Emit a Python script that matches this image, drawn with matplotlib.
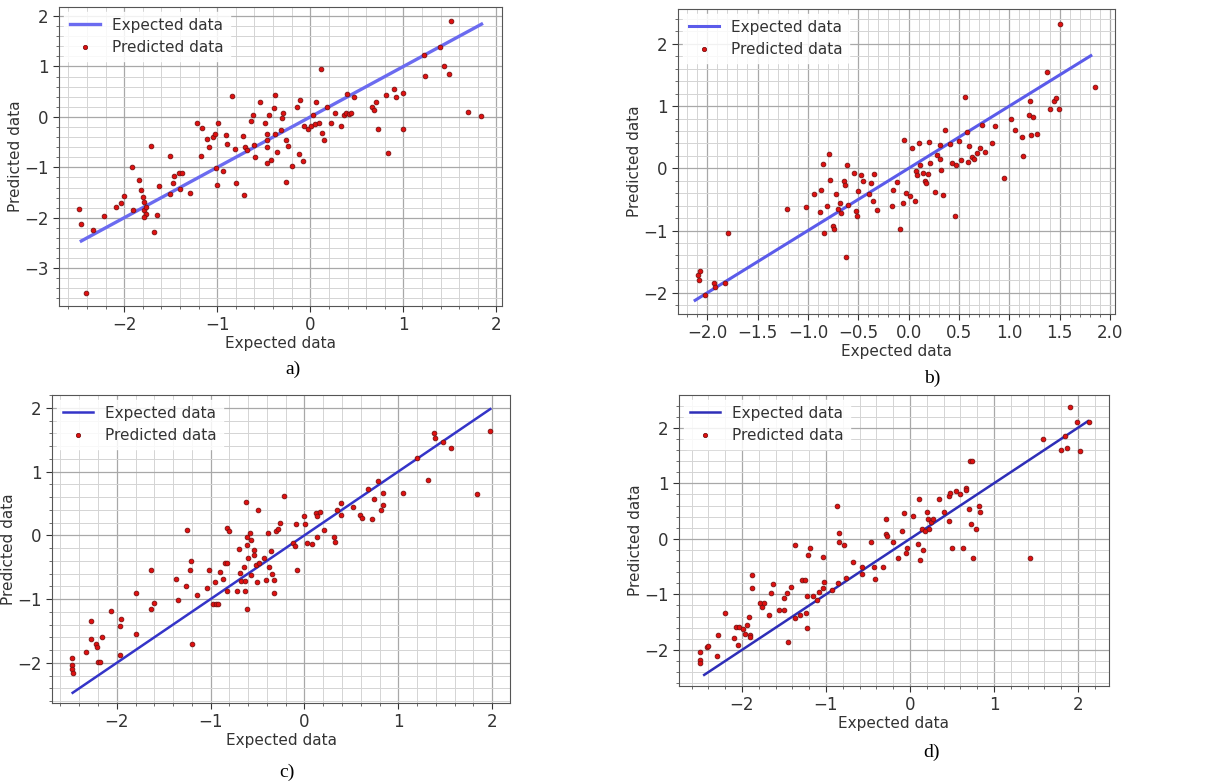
import matplotlib
matplotlib.use("Agg")
import matplotlib.pyplot as plt
from matplotlib.ticker import AutoMinorLocator, MultipleLocator

# ---- panel a ----
a_x = [-2.48,-2.46,-2.33,-2.41,-2.22,-2.09,-2.03,-2.0,-1.92,-1.91,-1.84,-1.82,-1.80,-1.79,-1.79,-1.77,-1.76,-1.79,
       -1.71,-1.65,-1.68,-1.63,-1.51,-1.51,-1.47,-1.46,-1.41,-1.38,-1.40,-1.29,-1.22,-1.16,-1.17,-1.11,-1.09,-1.04,
       -1.02,-0.99,-1.01,-1.00,-0.94,-0.91,-0.90,-0.84,-0.81,-0.80,-0.72,-0.71,-0.70,-0.68,-0.64,-0.62,-0.59,-0.60,
       -0.54,-0.49,-0.47,-0.47,-0.46,-0.46,-0.44,-0.42,-0.39,-0.38,-0.38,-0.36,-0.30,-0.29,-0.31,-0.26,-0.24,-0.26,
       -0.20,-0.14,-0.11,-0.12,-0.08,-0.07,-0.02,0.01,0.03,0.05,0.06,0.09,0.11,0.13,0.15,0.18,0.22,0.27,0.33,0.36,
       0.38,0.42,0.44,0.39,0.47,0.66,0.68,0.71,0.73,0.81,0.84,0.90,0.92,1.00,1.00,1.22,1.23,1.39,1.44,1.49,1.51,
       1.70,1.83]
a_y = [-1.82,-2.13,-2.24,-3.49,-1.97,-1.78,-1.70,-1.57,-0.99,-1.84,-1.25,-1.44,-1.58,-1.68,-1.85,-1.92,-1.78,-1.98,
       -0.57,-1.95,-2.28,-1.37,-0.77,-1.53,-1.32,-1.17,-1.12,-1.12,-1.42,-1.50,-0.12,-0.22,-0.77,-0.43,-0.59,-0.39,
       -0.33,-0.13,-1.01,-1.35,-1.07,-0.35,-0.54,0.41,-0.63,-1.32,-0.37,-1.54,-0.59,-0.66,-0.08,0.04,-0.79,-0.56,
       0.30,-0.13,-0.33,-0.46,-0.59,-0.92,0.04,-0.86,0.17,0.43,-0.33,-0.69,-0.03,0.08,-0.26,-0.45,-0.58,-1.29,
       -0.97,0.19,0.33,-0.74,-0.87,-0.18,-0.23,-0.18,0.04,-0.14,0.30,-0.13,0.96,-0.31,-0.46,0.19,-0.13,0.08,-0.18,0.04,
       0.07,0.06,0.07,0.45,0.40,0.19,0.14,0.30,-0.23,0.43,-0.71,0.56,0.40,0.47,-0.23,1.23,0.81,1.39,1.01,0.85,1.90,
       0.10,0.02]

# ---- panel b ----
b_x = [-2.09,-2.08,-2.07,-2.02,-1.93,-1.92,-1.82,-1.79,-1.21,-1.02,-0.94,-0.88,-0.87,-0.85,-0.84,-0.81,-0.79,-0.78,
       -0.75,-0.74,-0.72,-0.70,-0.68,-0.67,-0.64,-0.63,-0.62,-0.61,-0.60,-0.54,-0.52,-0.51,-0.50,-0.47,-0.45,-0.39,
       -0.37,-0.35,-0.34,-0.31,-0.16,-0.15,-0.12,-0.09,-0.06,-0.05,-0.03,0.01,0.03,0.06,0.07,0.08,0.10,0.11,0.14,
       0.16,0.17,0.19,0.20,0.21,0.26,0.28,0.31,0.31,0.32,0.34,0.36,0.41,0.43,0.46,0.47,0.50,0.52,0.56,0.58,0.59,
       0.60,0.63,0.65,0.68,0.71,0.73,0.76,0.83,0.86,0.95,1.02,1.06,1.13,1.14,1.20,1.21,1.22,1.24,1.28,1.37,1.40,
       1.44,1.46,1.49,1.50,1.85]
b_y = [-1.71,-1.79,-1.65,-2.03,-1.84,-1.90,-1.84,-1.04,-0.65,-0.62,-0.42,-0.70,-0.34,0.07,-1.04,-0.60,0.23,-0.18,
       -0.93,-0.98,-0.42,-0.65,-0.55,-0.71,-0.21,-0.26,-1.43,0.05,-0.59,-0.07,-0.69,-0.76,-0.37,-0.10,-0.21,-0.42,
       -0.24,-0.53,-0.09,-0.67,-0.60,-0.34,-0.22,-0.98,-0.55,0.46,-0.39,-0.44,0.33,-0.53,-0.05,-0.10,0.41,0.06,-0.07,
       -0.21,-0.24,-0.09,0.43,0.09,-0.38,0.22,0.15,0.37,-0.03,-0.43,0.62,0.39,0.08,-0.76,0.05,0.44,0.14,1.14,0.58,0.10,
       0.36,0.18,0.15,0.25,0.33,0.70,0.26,0.41,0.68,-0.15,0.80,0.61,0.50,0.20,0.85,1.08,0.53,0.83,0.55,1.54,0.95,
       1.08,1.13,0.95,2.32,1.31]

# ---- panel c ----
c_x = [-2.48,-2.48,-2.48,-2.47,-2.33,-2.27,-2.27,-2.22,-2.21,-2.20,-2.18,-2.16,-2.06,-1.97,-1.96,-1.97,-1.80,-1.79,
       -1.64,-1.64,-1.60,-1.37,-1.35,-1.26,-1.25,-1.21,-1.22,-1.20,-1.15,-1.04,-1.02,-0.97,-0.94,-0.92,-0.95,-0.90,
       -0.87,-0.85,-0.83,-0.83,-0.83,-0.80,-0.72,-0.70,-0.69,-0.68,-0.64,-0.63,-0.63,-0.62,-0.61,-0.61,-0.60,-0.61,
       -0.58,-0.57,-0.57,-0.54,-0.54,-0.52,-0.51,-0.50,-0.48,-0.43,-0.41,-0.39,-0.38,-0.36,-0.35,-0.32,-0.32,-0.30,
       -0.28,-0.26,-0.22,-0.12,-0.10,-0.09,-0.08,0.00,0.01,0.03,0.08,0.12,0.13,0.13,0.17,0.21,0.32,0.33,0.35,0.39,
       0.39,0.52,0.59,0.61,0.68,0.72,0.74,0.78,0.82,0.84,0.84,1.05,1.20,1.32,1.38,1.39,1.48,1.56,1.84,1.98]
c_y = [-1.93,-2.04,-2.10,-2.16,-1.83,-1.34,-1.62,-1.70,-1.75,-1.98,-1.98,-1.59,-1.19,-1.42,-1.32,-1.88,-0.90,-1.55,
       -0.54,-1.15,-1.06,-0.69,-1.02,-0.80,0.08,-0.40,-0.54,-1.70,-0.94,-0.83,-0.55,-1.07,-1.07,-1.07,-0.74,-0.57,
       -0.69,-0.44,-0.44,-0.88,0.11,0.06,-0.88,-0.22,-0.59,-0.71,-0.49,-0.71,-0.87,0.52,-0.02,-0.15,-0.36,-1.16,
       0.03,-0.07,-0.62,-0.23,-0.31,-0.46,-0.74,0.39,-0.44,-0.36,-0.70,0.04,-0.49,-0.25,-0.61,-0.70,-0.90,0.06,
       0.10,0.19,0.62,-0.12,-0.17,0.18,-0.54,0.31,0.18,-0.12,-0.13,0.35,0.30,-0.02,0.37,0.09,-0.02,-0.10,0.40,0.51,
       0.32,0.44,0.32,0.27,0.72,0.25,0.57,0.85,0.39,0.48,0.67,0.66,1.21,0.87,1.61,1.53,1.46,1.37,0.64,1.64]

# ---- panel d ----
d_x = [-2.50,-2.50,-2.50,-2.42,-2.40,-2.30,-2.28,-2.20,-2.10,-2.07,-2.05,-2.03,-1.99,-1.97,-1.94,-1.92,-1.91,-1.90,
       -1.88,-1.88,-1.79,-1.76,-1.74,-1.68,-1.66,-1.63,-1.56,-1.50,-1.50,-1.47,-1.45,-1.42,-1.37,-1.37,-1.31,-1.29,
       -1.25,-1.24,-1.23,-1.23,-1.21,-1.19,-1.16,-1.11,-1.08,-1.04,-1.03,-1.02,-0.93,-0.87,-0.86,-0.84,-0.85,-0.78,
       -0.76,-0.68,-0.57,-0.57,-0.46,-0.43,-0.42,-0.32,-0.29,-0.29,-0.27,-0.20,-0.14,-0.10,-0.07,-0.05,-0.03,0.04,
       0.09,0.11,0.12,0.14,0.16,0.18,0.20,0.22,0.23,0.25,0.27,0.35,0.40,0.47,0.47,0.48,0.50,0.55,0.60,0.63,0.67,
       0.67,0.70,0.72,0.74,0.73,0.75,0.79,0.82,0.83,1.43,1.58,1.80,1.85,1.87,1.91,1.99,2.02,2.13]
d_y = [-2.03,-2.18,-2.24,-1.94,-1.93,-2.11,-1.73,-1.34,-1.79,-1.59,-1.91,-1.59,-1.63,-1.71,-1.55,-1.41,-1.73,-1.76,
       -0.65,-0.89,-1.15,-1.22,-1.15,-1.37,-0.98,-0.81,-1.29,-1.07,-1.29,-0.98,-1.85,-0.86,-0.12,-1.43,-1.37,-0.74,
       -0.74,-1.34,-1.03,-1.61,-0.29,-0.17,-1.03,-1.10,-0.95,-0.89,-0.33,-0.77,-0.92,0.59,-0.80,0.11,-0.06,-0.12,
       -0.71,-0.41,-0.50,-0.63,-0.06,-0.51,-0.72,-0.51,0.36,0.09,0.06,-0.05,-0.35,0.14,0.47,-0.26,-0.17,0.42,
       -0.09,0.72,-0.38,0.18,-0.21,0.14,0.48,0.36,0.17,0.31,0.36,0.71,0.48,0.33,0.78,0.83,-0.17,0.86,0.80,-0.17,0.92,
       0.88,0.54,1.40,1.40,0.27,-0.35,0.17,0.59,0.48,-0.35,1.79,1.60,1.85,1.64,2.38,2.10,1.58,2.10]

# expected-line end points (same values on both axes)
a_line = [-2.46, 1.84]
b_line = [-2.12, 1.81]
c_line = [-2.47, 1.98]
d_line = [-2.45, 2.12]

W, H = 1232, 784
fig = plt.figure(figsize=(W / 100, H / 100), dpi=100)
fig.patch.set_facecolor("white")

panels = [
    dict(box=(59, 7, 502, 306), x=a_x, y=a_y, line=a_line, xlim=(-2.70, 2.06), ylim=(-3.75, 2.18),
         xmaj=1, ymaj=1, lc="#6b6bf0", lw=2.4, cap="a)", cappos=(293, 369)),
    dict(box=(678, 9, 1115, 314), x=b_x, y=b_y, line=b_line, xlim=(-2.29, 2.05), ylim=(-2.34, 2.56),
         xmaj=0.5, ymaj=1, lc="#5b5bea", lw=2.2, cap="b)", cappos=(932, 378)),
    dict(box=(52, 395, 510, 703), x=c_x, y=c_y, line=c_line, xlim=(-2.69, 2.19), ylim=(-2.63, 2.2),
         xmaj=1, ymaj=1, lc="#3434c8", lw=1.8, cap="c)", cappos=(287, 772)),
    dict(box=(679, 395, 1109, 686), x=d_x, y=d_y, line=d_line, xlim=(-2.75, 2.37), ylim=(-2.65, 2.59),
         xmaj=1, ymaj=1, lc="#2e2eb8", lw=1.8, cap="d)", cappos=(932, 752)),
]

for p in panels:
    l, t, r, b = p["box"]
    ax = fig.add_axes([l / W, 1 - b / H, (r - l) / W, (b - t) / H])
    ax.plot(p["line"], p["line"], color=p["lc"], lw=p["lw"], label="Expected data", zorder=3)
    ax.plot(p["x"], p["y"], linestyle="none", marker="o", markersize=3.4,
            markerfacecolor="#e01010", markeredgecolor="#7a1010", markeredgewidth=0.6,
            label="Predicted data", zorder=4)
    ax.set_xlim(*p["xlim"])
    ax.set_ylim(*p["ylim"])
    ax.xaxis.set_major_locator(MultipleLocator(p["xmaj"]))
    ax.yaxis.set_major_locator(MultipleLocator(p["ymaj"]))
    ax.xaxis.set_minor_locator(AutoMinorLocator(5))
    ax.yaxis.set_minor_locator(AutoMinorLocator(5))
    ax.grid(which="major", color="#a8a8a8", lw=0.9)
    ax.grid(which="minor", color="#d4d4d4", lw=0.7)
    ax.set_axisbelow(True)
    ax.tick_params(which="major", labelsize=12, colors="#333333", length=4)
    ax.tick_params(which="minor", length=2, colors="#555555")
    for s in ax.spines.values():
        s.set_color("#555555")
    ax.set_xlabel("Expected data", fontsize=11, color="#333333", labelpad=1)
    ax.set_ylabel("Predicted data", fontsize=11, color="#333333", labelpad=1)
    leg = ax.legend(loc="upper left", fontsize=11, frameon=True, framealpha=0.85,
                    edgecolor="white", borderaxespad=0.3, markerscale=0.9)
    for txt in leg.get_texts():
        txt.set_color("#333333")
    cx, cy = p["cappos"]
    fig.text(cx / W, 1 - cy / H, p["cap"], fontsize=14, family="Liberation Serif",
             ha="center", va="center", color="black")

fig.savefig("out.png", dpi=100)
